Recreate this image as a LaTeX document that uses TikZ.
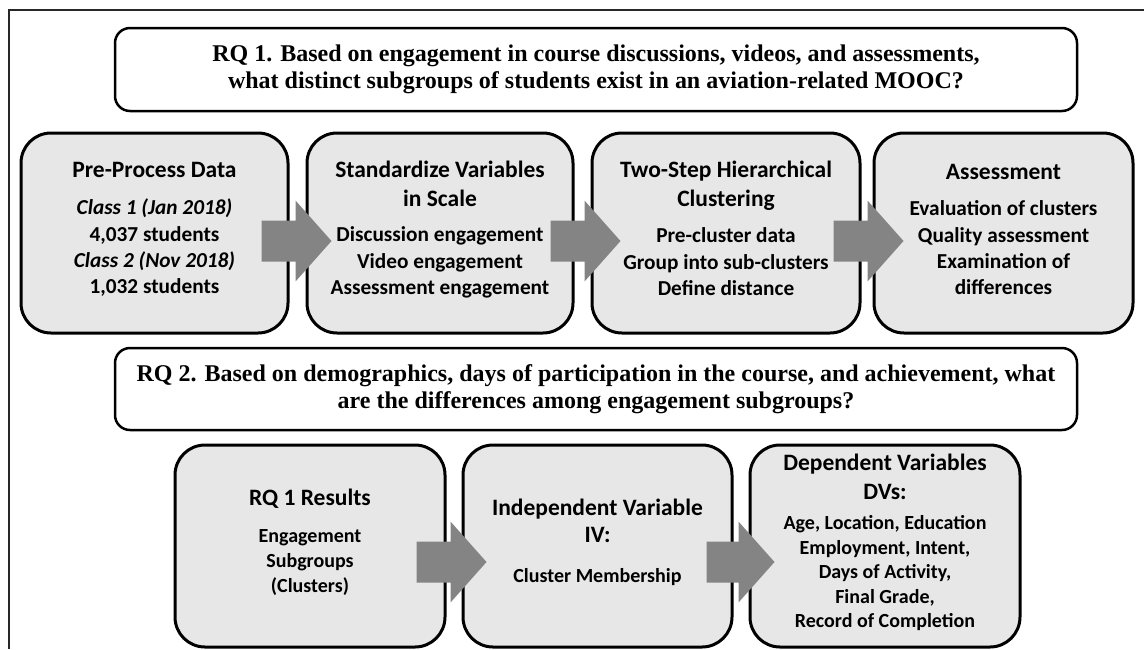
\documentclass[tikz,border=0pt]{standalone}
\usepackage{fontspec}
\setmainfont{Liberation Serif}
\newfontfamily\calibri{Carlito}
\usetikzlibrary{calc}

\definecolor{boxfill}{RGB}{231,231,231}
\definecolor{arrowfill}{RGB}{132,132,132}
\definecolor{framegray}{RGB}{40,40,40}

% fonts
\newcommand\rqfont{\fontsize{24}{27}\selectfont\bfseries}
\newcommand\ttl{\calibri\bfseries\fontsize{23.5}{29}\selectfont}
\newcommand\bodyA{\calibri\bfseries\fontsize{21.3}{26.3}\selectfont}
\newcommand\bodyB{\calibri\bfseries\fontsize{20}{25}\selectfont}
\newcommand\bodyC{\calibri\bfseries\fontsize{20}{24.5}\selectfont}

% block arrow from a tail point to a tip point
\newcommand\blockarrow[2]{%
  \fill[arrowfill] let \p1=(#1), \p2=(#2) in
    (\x1,{\y1+20.5pt}) -- ({\x2-36pt},{\y1+20.5pt}) -- ({\x2-36pt},{\y1+40.5pt})
    -- (\x2,\y1) -- ({\x2-36pt},{\y1-40.5pt}) -- ({\x2-36pt},{\y1-20.5pt})
    -- (\x1,{\y1-20.5pt}) -- cycle;}

\tikzset{
  question/.style={draw=black, line width=2.5pt, fill=white, rounded corners=15pt,
    inner sep=0pt, minimum width=962pt, align=center, font=\rqfont},
  stagebox/.style={draw=black, line width=3pt, fill=boxfill, rounded corners=30pt,
    inner sep=0pt},
  stagetext/.style={inner sep=0pt, align=center, yshift=3.5pt},
}

\begin{document}
\begin{tikzpicture}[x=1pt,y=-1pt]
\useasboundingbox (0,0) rectangle (1144,649);

% outer frame (top and left edges)
\draw[framegray, line width=2pt] (9,649) -- (9,10) -- (1144,10);

% research question 1
\node[question, minimum height=83pt] (rq1) at (596,69.5)
  {RQ 1. Based on engagement in course discussions, videos, and assessments,\\
   what distinct subgroups of students exist in an aviation-related MOOC?};

% RQ 1 stages
\node[stagebox, minimum width=267pt, minimum height=200pt] (pre) at (154.5,233) {};
\node[stagebox, minimum width=266pt, minimum height=200pt] (std) at (440,233) {};
\node[stagebox, minimum width=268pt, minimum height=200pt] (clu) at (726,233) {};
\node[stagebox, minimum width=259pt, minimum height=200pt] (ass) at (1003.5,233) {};

\node[stagetext, font=\bodyA] (preT) at (pre)
  {{\ttl Pre-Process Data}\\[11pt]
   \textit{Class 1 (Jan 2018)}\\
   4,037 students\\
   \textit{Class 2 (Nov 2018)}\\
   1,032 students};
\node[stagetext, font=\bodyA] (stdT) at (std)
  {{\ttl Standardize Variables}\\[2.5pt]
   {\ttl in Scale}\\[9.5pt]
   Discussion engagement\\
   Video engagement\\
   Assessment engagement};
\node[stagetext, font=\bodyA, yshift=1pt] (cluT) at (clu)
  {{\ttl Two-Step Hierarchical}\\[2.5pt]
   {\ttl Clustering}\\[10pt]
   Pre-cluster data\\
   Group into sub-clusters\\
   Define distance};
\node[stagetext, font=\bodyA] (assT) at (ass)
  {{\ttl Assessment}\\[10.5pt]
   Evaluation of clusters\\
   Quality assessment\\
   Examination of\\
   differences};

% research question 2
\node[question, minimum height=82pt] (rq2) at (596,389)
  {RQ 2. Based on demographics, days of participation in the course, and achievement, what\\
   are the differences among engagement subgroups?};

% RQ 2 stages
\node[stagebox, minimum width=270pt, minimum height=202pt] (res) at (310,546) {};
\node[stagebox, minimum width=269pt, minimum height=202pt] (iv) at (597.5,546) {};
\node[stagebox, minimum width=270pt, minimum height=202pt] (dv) at (885,546) {};

\node[stagetext, font=\bodyB] (resT) at (res)
  {{\ttl RQ 1 Results}\\[12pt]
   Engagement\\
   Subgroups\\
   (Clusters)};
\node[stagetext, font=\bodyB, yshift=0.5pt] (ivT) at (iv)
  {{\ttl Independent Variable}\\[2pt]
   {\ttl IV:}\\[15pt]
   Cluster Membership};
\node[stagetext, font=\bodyC] (dvT) at (dv)
  {{\ttl Dependent Variables}\\[4pt]
   {\ttl DVs:}\\[6pt]
   Age, Location, Education\\
   Employment, Intent,\\
   Days of Activity,\\
   Final Grade,\\
   Record of Completion};

% arrow ends, placed from the boxes they join
\coordinate (t1) at ($(pre.east)+(-28,8)$);
\coordinate (h1) at ($(std.west)+(26,8)$);
\coordinate (t2) at ($(std.east)+(-24,8)$);
\coordinate (h2) at ($(clu.west)+(30,8)$);
\coordinate (t3) at ($(clu.east)+(-28,8)$);
\coordinate (h3) at ($(ass.west)+(31,8)$);
\coordinate (t4) at ($(res.east)+(-30,16)$);
\coordinate (h4) at ($(iv.west)+(25,16)$);
\coordinate (t5) at ($(iv.east)+(-27,16)$);
\coordinate (h5) at ($(dv.west)+(26,16)$);

\blockarrow{t1}{h1}
\blockarrow{t2}{h2}
\blockarrow{t3}{h3}
\blockarrow{t4}{h4}
\blockarrow{t5}{h5}
\end{tikzpicture}
\end{document}
